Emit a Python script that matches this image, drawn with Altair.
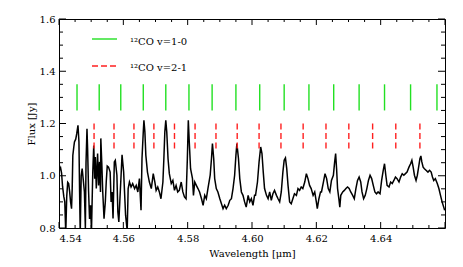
import altair as alt
import pandas as pd

# ---------------- data ----------------
wl_a = [4.5402,4.5405,4.5408,4.5411,4.5415,4.5418,4.5421,4.5424,4.5427,4.5430,4.5433,4.5436,4.5439,4.5441,4.5443,4.5446,4.5448,4.5452,4.5455,4.5459,4.5462,4.5464,4.5466,4.5469,4.5472,4.5475,4.5479,4.5482,4.5484,4.5487,4.5489,4.5492,4.5495,4.5498,4.5501,4.5505,4.5508,4.5511,4.5513,4.5516,4.5520,4.5523,4.5526,4.5529,4.5530,4.5533,4.5536,4.5540,4.5544,4.5547,4.5550,4.5554,4.5559,4.5562,4.5565,4.5568,4.5572,4.5575,4.5580,4.5583,4.5586,4.5589,4.5593,4.5596]
fx_a = [1.021,1.030,1.010,0.960,0.920,0.900,0.780,0.920,0.975,0.970,0.940,0.900,0.874,0.950,1.078,1.110,1.129,1.140,1.160,1.193,1.130,0.940,0.780,1.000,1.027,0.990,0.938,0.800,1.050,1.180,1.100,0.940,0.835,0.887,0.790,1.014,1.116,0.989,1.072,0.951,1.085,0.963,1.053,0.938,1.143,1.050,0.938,0.836,0.900,0.980,1.037,1.033,1.014,0.900,0.938,0.836,1.053,1.059,1.002,0.861,0.823,0.900,1.002,1.080]

wl_b = [4.5601,4.5607,4.5612,4.5615,4.5619,4.5624,4.5629,4.5635,4.5640,4.5645,4.5650,4.5655,4.5658,4.5662,4.5664,4.5667,4.5670,4.5675,4.5681,4.5687,4.5693,4.5698,4.5702,4.5707,4.5712,4.5717,4.5723,4.5726,4.5729,4.5732,4.5735,4.5739,4.5743,4.5749,4.5754,4.5759,4.5764,4.5769,4.5774,4.5780,4.5785,4.5790,4.5795,4.5799,4.5802]
fx_b = [1.014,0.849,0.790,0.951,0.976,0.957,0.970,0.951,0.963,0.938,0.989,0.868,1.065,1.168,1.212,1.168,1.078,1.014,0.976,0.951,1.008,0.976,0.944,0.957,0.938,0.912,0.976,1.065,1.168,1.212,1.168,1.065,1.008,0.970,0.982,0.944,0.963,0.938,0.944,0.976,0.938,0.919,0.912,1.065,1.212]

wl_c = [4.5805,4.5809,4.5815,4.5818,4.5822,4.5827,4.5832,4.5837,4.5843,4.5848,4.5853,4.5858,4.5863,4.5870,4.5874,4.5877,4.5881,4.5884,4.5889,4.5894,4.5900,4.5905,4.5910,4.5915,4.5920,4.5926,4.5931,4.5936,4.5941,4.5946,4.5950,4.5953,4.5958,4.5962,4.5967,4.5972,4.5977,4.5982,4.5988,4.5993,4.5998,4.6003,4.6008]
fx_c = [1.129,1.027,0.989,0.925,0.976,0.963,0.951,0.938,0.912,0.887,0.925,0.912,0.951,1.002,1.065,1.123,1.065,0.989,0.951,0.938,0.912,0.893,0.874,0.887,0.874,0.887,0.906,0.912,0.951,1.002,1.078,1.123,1.065,0.989,0.938,0.925,0.900,0.880,0.925,0.900,0.912,0.887,0.925]

wl_d = [4.6011,4.6017,4.6022,4.6027,4.6031,4.6035,4.6039,4.6045,4.6050,4.6055,4.6060,4.6065,4.6070,4.6076,4.6081,4.6086,4.6091,4.6096,4.6100,4.6104,4.6108,4.6112,4.6117,4.6122,4.6127,4.6132,4.6138,4.6143,4.6148,4.6153,4.6158,4.6164,4.6169,4.6174,4.6179,4.6184,4.6190,4.6195,4.6200,4.6203,4.6208,4.6213]
fx_d = [0.925,0.976,1.053,1.110,1.085,1.014,0.951,0.925,0.912,0.938,0.906,0.931,0.944,0.925,0.912,0.900,0.938,1.014,1.059,1.068,1.027,0.963,0.900,0.893,0.912,0.931,0.925,0.951,0.944,0.957,0.951,0.976,1.008,0.989,0.963,0.951,0.925,0.938,0.900,0.874,0.912,0.938]

wl_e = [4.6216,4.6222,4.6227,4.6232,4.6237,4.6242,4.6247,4.6253,4.6257,4.6260,4.6263,4.6266,4.6270,4.6273,4.6276,4.6282,4.6287,4.6292,4.6297,4.6302,4.6307,4.6313,4.6318,4.6323,4.6328,4.6333,4.6338,4.6342,4.6347,4.6352,4.6357,4.6362,4.6367,4.6372,4.6377,4.6382,4.6387,4.6392,4.6398,4.6403,4.6408,4.6412]
fx_e = [0.938,0.976,1.008,0.989,0.951,0.938,0.982,1.002,1.053,1.085,1.027,0.951,0.912,0.880,0.925,0.938,0.944,0.951,0.957,0.951,0.938,0.925,0.912,0.951,0.982,0.995,0.976,0.938,0.912,0.925,0.951,0.982,1.002,0.989,0.963,0.938,0.931,0.938,0.931,0.982,1.021,1.046]

wl_f = [4.6416,4.6420,4.6426,4.6431,4.6436,4.6441,4.6446,4.6451,4.6457,4.6462,4.6467,4.6472,4.6477,4.6482,4.6488,4.6493,4.6497,4.6501,4.6505,4.6510,4.6514,4.6518,4.6522,4.6525,4.6528,4.6532,4.6536,4.6541,4.6547,4.6552,4.6557,4.6561,4.6565,4.6570,4.6576,4.6581,4.6586,4.6591,4.6596,4.6599]
fx_f = [1.002,0.963,0.957,0.976,0.970,0.982,0.995,0.989,0.976,0.995,1.008,1.002,1.008,1.014,1.033,1.046,1.059,1.033,1.002,0.982,1.002,1.033,1.065,1.076,1.053,1.033,1.027,1.021,1.014,1.021,1.014,0.995,0.982,0.989,0.970,0.951,0.925,0.900,0.880,0.868]

# 12CO line positions (micron)
co_10 = [4.5456,4.5525,4.5592,4.5662,4.5732,4.5804,4.5876,4.5950,4.6024,4.6100,4.6177,4.6254,4.6333,4.6412,4.6493,4.6575]
co_21 = [4.5509,4.5571,4.5633,4.5695,4.5759,4.5823,4.5888,4.5954,4.6022,4.6090,4.6159,4.6230,4.6301,4.6375,4.6447,4.6522]
co_10_range = (1.25, 1.35)
co_21_range = (1.10, 1.20)

legend_labels = ["\u00b9\u00b2CO v=1-0", "\u00b9\u00b2CO v=2-1"]

x_labels = [4.54, 4.56, 4.58, 4.60, 4.62, 4.64]
x_major = [4.54, 4.56, 4.58, 4.60, 4.62, 4.64, 4.66]
x_minor = [4.545, 4.55, 4.555, 4.565, 4.57, 4.575, 4.585, 4.59, 4.595, 4.605, 4.61, 4.615,
           4.625, 4.63, 4.635, 4.645, 4.65, 4.655]
y_major = [0.8, 1.0, 1.2, 1.4, 1.6]
y_minor = [0.85, 0.9, 0.95, 1.05, 1.1, 1.15, 1.25, 1.3, 1.35, 1.45, 1.5, 1.55]

# --------------- build ---------------
wl, fx = [], []
for a, b in [(wl_a, fx_a), (wl_b, fx_b), (wl_c, fx_c), (wl_d, fx_d), (wl_e, fx_e), (wl_f, fx_f)]:
    assert len(a) == len(b)
    wl += a
    fx += b
spec = pd.DataFrame({"wl": wl, "flux": fx})

W, H = 386, 209
FONT = "DejaVu Serif"
XT = "Wavelength [\u03bcm]"
YT = "Flux [Jy]"
xs = alt.Scale(domain=[4.54, 4.66], nice=False, zero=False)
ys = alt.Scale(domain=[0.8, 1.6], nice=False, zero=False)

line = alt.Chart(spec).mark_line(color="black", strokeWidth=1.5, clip=True).encode(
    x=alt.X("wl:Q", scale=xs, title=XT, axis=alt.Axis(
        values=x_labels, format=".2f", title=XT, ticks=False, domain=False,
        grid=False, labelFont=FONT, labelFontSize=10, labelPadding=5, labelColor="black",
        titleFont=FONT, titleFontSize=10, titleFontWeight="normal", titlePadding=5,
        titleColor="black")),
    y=alt.Y("flux:Q", scale=ys, title=YT, axis=alt.Axis(
        values=y_major, format=".1f", title=YT, ticks=False, domain=False,
        grid=False, labelFont=FONT, labelFontSize=10, labelPadding=4, labelColor="black",
        titleFont=FONT, titleFontSize=10, titleFontWeight="normal", titlePadding=3,
        titleColor="black")),
)

g_df = pd.DataFrame({"wl": co_10, "lo": co_10_range[0], "hi": co_10_range[1]})
r_df = pd.DataFrame({"wl": co_21, "lo": co_21_range[0], "hi": co_21_range[1]})

green = alt.Chart(g_df).mark_rule(color="#22e022", strokeWidth=1.4).encode(
    x=alt.X("wl:Q", scale=xs, title=XT),
    y=alt.Y("hi:Q", scale=ys, title=YT), y2="lo:Q")
red = alt.Chart(r_df).mark_rule(color="#ff2020", strokeWidth=1.4, strokeDash=[6, 3.5]).encode(
    x=alt.X("wl:Q", scale=xs, title=XT),
    y=alt.Y("hi:Q", scale=ys, title=YT), y2="lo:Q")

def xticks(vals, length):
    d = pd.DataFrame({"t": vals})
    bot = alt.Chart(d).mark_rule(color="black", strokeWidth=1).encode(
        x=alt.X("t:Q", scale=xs, title=XT), y=alt.value(H), y2=alt.value(H - length))
    top = alt.Chart(d).mark_rule(color="black", strokeWidth=1).encode(
        x=alt.X("t:Q", scale=xs, title=XT), y=alt.value(0), y2=alt.value(length))
    return [bot, top]

def yticks(vals, length):
    d = pd.DataFrame({"t": vals})
    left = alt.Chart(d).mark_rule(color="black", strokeWidth=1).encode(
        y=alt.Y("t:Q", scale=ys, title=YT), x=alt.value(0), x2=alt.value(length))
    right = alt.Chart(d).mark_rule(color="black", strokeWidth=1).encode(
        y=alt.Y("t:Q", scale=ys, title=YT), x=alt.value(W), x2=alt.value(W - length))
    return [left, right]

ticks = xticks(x_major, 6) + xticks(x_minor, 3) + yticks(y_major, 7) + yticks(y_minor, 4)

leg_g = alt.Chart(pd.DataFrame({"a": [0]})).mark_rule(color="#22e022", strokeWidth=1.4).encode(
    x=alt.value(33), x2=alt.value(58), y=alt.value(20))
leg_r = alt.Chart(pd.DataFrame({"a": [0]})).mark_rule(color="#ff2020", strokeWidth=1.4,
                                                      strokeDash=[6, 3]).encode(
    x=alt.value(33), x2=alt.value(58), y=alt.value(47))
leg_t1 = alt.Chart(pd.DataFrame({"label": [legend_labels[0]]})).mark_text(
    align="left", baseline="middle", font=FONT, fontSize=10, color="black").encode(
    x=alt.value(71), y=alt.value(23), text="label:N")
leg_t2 = alt.Chart(pd.DataFrame({"label": [legend_labels[1]]})).mark_text(
    align="left", baseline="middle", font=FONT, fontSize=10, color="black").encode(
    x=alt.value(71), y=alt.value(49), text="label:N")

chart = alt.layer(line, green, red, *ticks, leg_g, leg_r, leg_t1, leg_t2).properties(
    width=W, height=H,
    padding={"left": 51, "top": 11, "right": 10, "bottom": 38},
    autosize=alt.AutoSizeParams(type="none"),
    background="white",
).configure_view(stroke="black", strokeWidth=1)

chart.save("out.html", embed_options={"renderer": "svg", "actions": False})
